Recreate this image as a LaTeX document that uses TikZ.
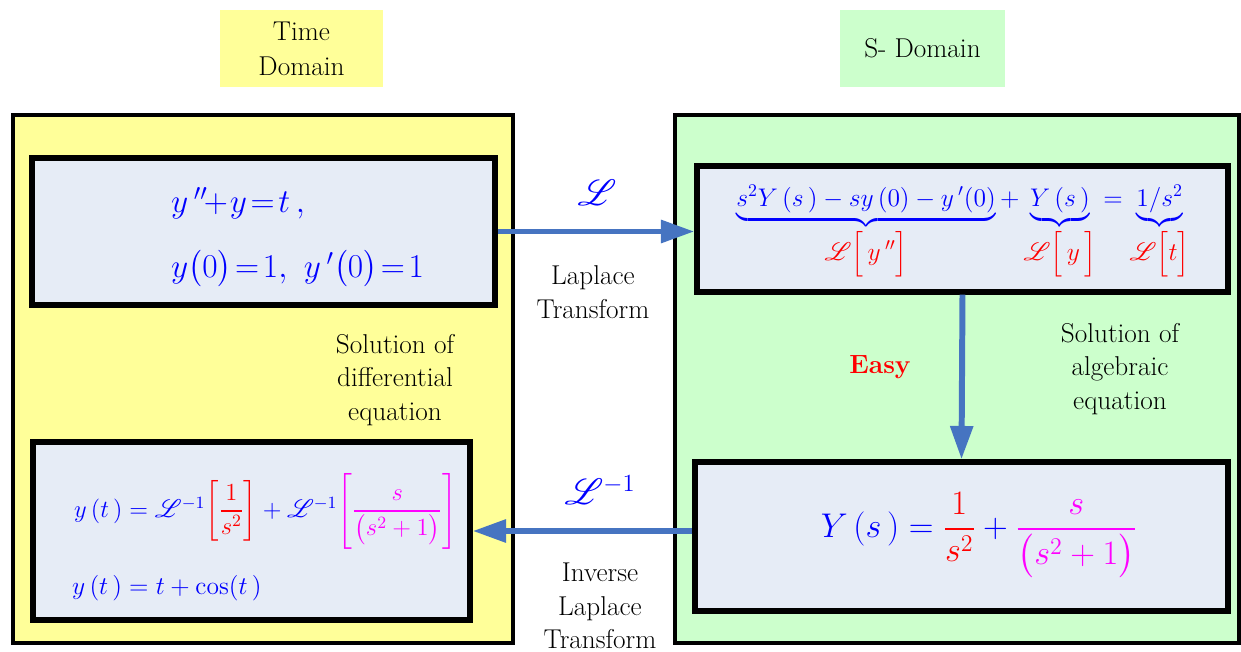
\documentclass[tikz,border=0pt]{standalone}
\usepackage{fix-cm}
\usepackage{amsmath}
\usepackage{mathrsfs}
\usetikzlibrary{arrows.meta,positioning}

\definecolor{timeyellow}{RGB}{255,255,153}
\definecolor{sgreen}{RGB}{204,255,204}
\definecolor{eqfill}{RGB}{230,236,246}
\definecolor{flowblue}{RGB}{70,116,193}
\definecolor{eqblue}{RGB}{0,0,255}
\definecolor{eqred}{RGB}{255,0,0}
\definecolor{eqpink}{RGB}{255,0,255}

\begin{document}
\begin{tikzpicture}[x=0.2mm, y=-0.2mm, >={Triangle[length=19pt,width=12.5pt]},
  domainbox/.style={align=center, inner sep=0pt, font=\fontsize{15.5}{19.8}\selectfont},
  outerbox/.style={draw=black, line width=2.5pt, inner sep=0pt, minimum height=105.6mm},
  eqbox/.style={draw=black, line width=3pt, fill=eqfill, inner sep=0pt},
  flow/.style={->, draw=flowblue, line width=3.4pt},
  note/.style={align=center, font=\fontsize{15.5}{19}\selectfont}]
  \useasboundingbox (0,0) rectangle (1241,652);

  % domain titles
  \node[domainbox, fill=timeyellow, minimum width=32.6mm, minimum height=15.4mm] (timetitle) at (301.5,48.5) {Time\\Domain};
  \node[domainbox, fill=sgreen, minimum width=33mm, minimum height=15.4mm] (stitle) at (922.5,48.5) {S- Domain};

  % domains
  \node[outerbox, fill=timeyellow, minimum width=100mm] (timedom) at (263,379) {};
  \node[outerbox, fill=sgreen, minimum width=112.8mm] (sdom) at (957,379) {};

  % equation boxes
  \node[eqbox, minimum width=92.6mm, minimum height=29.4mm] (ode) at (263.5,231.5) {};
  \node[eqbox, minimum width=87.4mm, minimum height=35.6mm] (sol) at (251.5,531) {};
  \node[eqbox, minimum width=106.2mm, minimum height=25.2mm] (lap) at (962.5,229) {};
  \node[eqbox, minimum width=106.6mm, minimum height=29.8mm] (alg) at (961.5,536.5) {};

  % box contents
  \node[anchor=west, align=left, eqblue, font=\fontsize{19}{37}\selectfont] (odetext) at (165,238)
    {$\thickmuskip=2mu\medmuskip=1mu y\,''\!+y=t\,,$\\
     $\thickmuskip=2mu y\bigl(0\bigr)=1,\;\;\; y\,'\bigl(0\bigr)=1$};
  \node[eqblue, font=\fontsize{14.5}{17}\selectfont] (laptext) at (963,232)
    {$\underbrace{s^{2}Y\,(s\,)-sy\,(0)-y\,'(0)}_{\textstyle\color{eqred}\mathscr{L}\Bigl[\,y\,''\Bigr]}
      +\underbrace{Y\,(s\,)}_{\textstyle\color{eqred}\mathscr{L}\Bigl[\,y\,\Bigr]}
      =\underbrace{1/s^{2}}_{\textstyle\color{eqred}\mathscr{L}\Bigl[t\Bigr]}$};
  \node[anchor=west, eqblue, font=\fontsize{14}{17}\selectfont] (soltext) at (68,511)
    {$y\,(t\,)=\mathscr{L}^{-1}\textcolor{eqred}{\left[\dfrac{1}{s^{2}}\right]}
      +\mathscr{L}^{-1}\textcolor{eqpink}{\left[\dfrac{s}{\bigl(s^{2}+1\bigr)}\right]}$};
  \node[anchor=west, eqblue, font=\fontsize{14.5}{17}\selectfont] (solcos) at (66,588)
    {$y\,(t\,)=t+\cos(t\,)$};
  \node[eqblue, font=\fontsize{19.5}{23}\selectfont] (algtext) at (979,535)
    {$Y\,(s\,)=\textcolor{eqred}{\dfrac{1}{s^{2}}}+\textcolor{eqpink}{\dfrac{s}{\bigl(s^{2}+1\bigr)}}$};

  % transforms
  \draw[flow] (ode.east) -- (ode.east -| lap.west);
  \draw[flow] (lap.south) -- (alg.north);
  \draw[flow] (alg.west |- sol.east) -- (sol.east);

  \node[eqblue, font=\fontsize{20}{24}\selectfont] (lsym) at (597,193) {$\mathscr{L}$};
  \node[eqblue, font=\fontsize{20}{24}\selectfont] (linvsym) at (600,490) {$\mathscr{L}^{-1}$};

  \node[note] (lapnote) at (593,292) {Laplace\\Transform};
  \node[note] (invnote) at (600,606) {Inverse\\Laplace\\Transform};
  \node[note] (diffnote) at (395,380) {Solution of\\differential\\equation};
  \node[note] (algnote) at (1120,369) {Solution of\\algebraic\\equation};
  \node[eqred, font=\fontsize{15}{18}\selectfont\bfseries] (easy) at (880,367) {Easy};
\end{tikzpicture}
\end{document}
